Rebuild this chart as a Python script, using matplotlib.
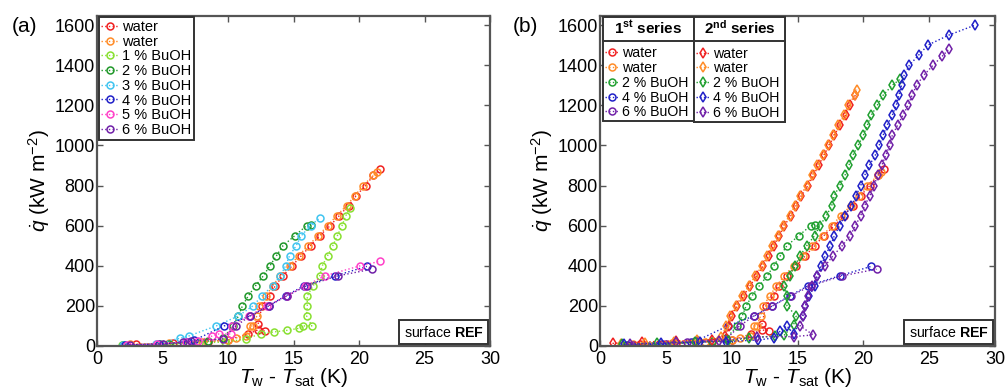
import matplotlib
matplotlib.use("Agg")
import matplotlib.pyplot as plt
from matplotlib.offsetbox import AnchoredText
from matplotlib.lines import Line2D

plt.rcParams['font.family'] = ['Liberation Sans', 'DejaVu Sans']
plt.rcParams['mathtext.fontset'] = 'custom'
plt.rcParams['mathtext.rm'] = 'Liberation Sans'
plt.rcParams['mathtext.it'] = 'Liberation Sans:italic'
plt.rcParams['mathtext.bf'] = 'Liberation Sans:bold'

# ---- panel (a) / 1st series data: (dT in K, q in kW m^-2) ----
water1_dt = [3.0, 5.8, 8.5, 10.0, 11.5, 12.3, 12.8, 12.3, 12.6, 13.2, 13.6, 14.2, 14.9, 15.6, 16.3, 17.0, 17.8, 18.5, 19.2, 19.8, 20.5, 21.1, 21.6]
water1_q = [8, 15, 22, 30, 60, 80, 75, 110, 200, 250, 300, 350, 400, 450, 500, 550, 600, 650, 700, 750, 800, 850, 880]
water2_dt = [2.5, 5.5, 8.0, 10.0, 10.6, 11.4, 11.7, 11.9, 12.2, 12.4, 12.9, 13.4, 14.0, 14.7, 15.4, 16.1, 16.9, 17.6, 18.3, 19.05, 19.7, 20.3, 21.1, 21.35]
water2_q = [8, 14, 20, 28, 40, 50, 100, 100, 150, 200, 250, 300, 350, 400, 450, 500, 550, 600, 650, 700, 750, 800, 850, 867]
buoh1_dt = [1.9, 4.8, 7.8, 9.8, 11.4, 12.5, 13.5, 14.5, 15.4, 15.75, 16.4, 16.0, 16.05, 16.05, 16.5, 17.0, 17.2, 17.6, 18.0, 18.35, 18.7, 19.0, 19.3]
buoh1_q = [5, 8, 15, 20, 35, 62, 70, 78, 88, 100, 100, 150, 200, 250, 300, 350, 400, 450, 500, 550, 600, 650, 690]
buoh2_dt = [2.0, 5.5, 8.5, 9.6, 10.4, 10.8, 11.1, 11.55, 12.1, 12.7, 13.2, 13.7, 14.2, 15.1, 16.0, 16.3]
buoh2_q = [5, 10, 25, 38, 100, 150, 200, 250, 300, 350, 400, 450, 500, 550, 600, 605]
buoh3_dt = [2.0, 4.5, 6.3, 7.0, 9.1, 10.8, 11.9, 12.6, 13.4, 14.0, 14.4, 14.7, 15.2, 15.6, 16.3, 17.0]
buoh3_q = [5, 10, 38, 50, 100, 150, 200, 250, 300, 350, 400, 450, 500, 550, 600, 638]
buoh4_dt = [2.1, 4.7, 6.9, 7.4, 9.7, 11.7, 13.1, 14.4, 15.8, 18.2, 20.6]
buoh4_q = [5, 10, 18, 28, 100, 150, 200, 250, 300, 350, 397]
buoh5_dt = [2.3, 4.6, 6.8, 7.7, 8.8, 9.3, 10.2, 10.3, 11.6, 13.0, 14.5, 15.9, 17.4, 20.1, 21.6]
buoh5_q = [5, 10, 20, 25, 50, 60, 60, 100, 150, 200, 250, 300, 350, 400, 422]
buoh6_dt = [2.5, 5.0, 6.6, 7.2, 9.6, 10.6, 11.7, 13.1, 14.5, 16.0, 18.4, 21.0]
buoh6_q = [5, 10, 20, 25, 35, 100, 150, 200, 250, 300, 350, 383]

# ---- panel (b) 2nd series data ----
water1b_dt = [0.95, 3.2, 5.8, 8.5, 9.5, 9.8, 10.0, 10.4, 10.9, 11.4, 11.9, 12.4, 12.8, 13.2, 13.6, 14.0, 14.5, 14.9, 15.3, 15.8, 16.2, 16.6, 17.0, 17.4, 17.8, 18.2, 18.65, 18.95, 19.4]
water1b_q = [13, 20, 25, 30, 50, 100, 150, 200, 250, 300, 350, 400, 450, 500, 550, 600, 650, 700, 750, 800, 850, 900, 950, 1000, 1050, 1100, 1150, 1200, 1250]
water2b_dt = [1.6, 3.4, 5.6, 7.4, 9.2, 9.6, 9.9, 10.3, 10.8, 11.3, 11.8, 12.3, 12.7, 13.1, 13.5, 13.9, 14.4, 14.8, 15.2, 15.7, 16.1, 16.5, 16.9, 17.3, 17.7, 18.1, 18.55, 18.85, 19.35, 19.5]
water2b_q = [10, 15, 22, 28, 45, 100, 150, 200, 250, 300, 350, 400, 450, 500, 550, 600, 650, 700, 750, 800, 850, 900, 950, 1000, 1050, 1100, 1150, 1200, 1250, 1278]
buoh2b_dt = [1.7, 4.3, 7.2, 9.7, 11.3, 13.3, 14.0, 14.7, 14.9, 14.2, 14.2, 14.0, 14.4, 14.8, 15.2, 15.7, 16.3, 16.7, 17.2, 17.6, 17.8, 18.2, 18.6, 18.9, 19.2, 19.6, 20.0, 20.3, 20.6, 21.06, 21.5, 22.2, 22.8]
buoh2b_q = [10, 15, 20, 25, 40, 50, 55, 105, 150, 200, 250, 300, 350, 400, 450, 500, 550, 600, 650, 700, 750, 800, 850, 900, 950, 1000, 1050, 1100, 1150, 1200, 1250, 1300, 1330]
buoh4b_dt = [1.8, 4.6, 7.6, 9.6, 12.0, 13.2, 13.7, 14.2, 14.7, 15.4, 15.6, 15.9, 16.3, 16.5, 16.8, 17.1, 17.5, 17.8, 18.2, 18.6, 19.1, 19.45, 19.8, 20.1, 20.45, 20.9, 21.2, 21.5, 21.8, 22.2, 22.5, 22.7, 22.9, 23.1, 23.5, 24.2, 24.9, 26.5, 28.5]
buoh4b_q = [8, 15, 20, 22, 30, 40, 75, 100, 60, 150, 200, 250, 300, 350, 400, 450, 500, 550, 600, 650, 700, 750, 800, 850, 900, 950, 1000, 1050, 1100, 1150, 1200, 1250, 1300, 1350, 1400, 1450, 1500, 1550, 1600]
buoh6b_dt = [2.3, 5.8, 9.0, 11.9, 14.7, 16.2, 15.2, 15.4, 15.6, 15.8, 16.1, 16.5, 17.1, 17.7, 18.4, 19.0, 19.4, 19.8, 20.1, 20.5, 20.8, 21.1, 21.4, 21.7, 22.0, 22.2, 22.6, 23.0, 23.4, 23.7, 24.05, 24.6, 25.3, 26.0, 26.5]
buoh6b_q = [10, 20, 27, 45, 47, 55, 100, 150, 200, 250, 300, 350, 400, 450, 500, 550, 600, 650, 700, 750, 800, 850, 900, 950, 1000, 1050, 1100, 1150, 1200, 1250, 1300, 1350, 1400, 1445, 1480]

labels_a = ['water', 'water', '1 % BuOH', '2 % BuOH', '3 % BuOH', '4 % BuOH', '5 % BuOH', '6 % BuOH']
colors_a = ['#f02020', '#ff8c28', '#88e030', '#20982a', '#40c4f0', '#2020c8', '#ff40c8', '#7020a8']
series_a = [(water1_dt, water1_q), (water2_dt, water2_q), (buoh1_dt, buoh1_q), (buoh2_dt, buoh2_q),
            (buoh3_dt, buoh3_q), (buoh4_dt, buoh4_q), (buoh5_dt, buoh5_q), (buoh6_dt, buoh6_q)]

labels_b = ['water', 'water', '2 % BuOH', '4 % BuOH', '6 % BuOH']
colors_b = ['#f02020', '#ff8c28', '#20a030', '#2020c8', '#7020a8']
series_b1 = [(water1_dt, water1_q), (water2_dt, water2_q), (buoh2_dt, buoh2_q), (buoh4_dt, buoh4_q), (buoh6_dt, buoh6_q)]
series_b2 = [(water1b_dt, water1b_q), (water2b_dt, water2b_q), (buoh2b_dt, buoh2b_q), (buoh4b_dt, buoh4b_q), (buoh6b_dt, buoh6b_q)]

fig = plt.figure(figsize=(10.05, 3.87), dpi=100)
ax_a = fig.add_axes([97 / 1005, 1 - 346 / 387, 393 / 1005, 330 / 387])
ax_b = fig.add_axes([600 / 1005, 1 - 346 / 387, 395 / 1005, 330 / 387])

line_kw = dict(ls=':', lw=1.0, mfc='none', mew=1.1)
leg_kw = dict(borderaxespad=0, fontsize=10.5, labelspacing=0.05, handlelength=1.15,
              handletextpad=0.25, borderpad=0.2, fancybox=False, framealpha=1)


def style_axes(ax):
    ax.set_xlim(0, 30)
    ax.set_ylim(0, 1645)
    ax.set_xticks(range(0, 31, 5))
    ax.set_yticks(range(0, 1601, 200))
    ax.tick_params(direction='in', top=True, right=True, length=4, width=1,
                   labelsize=13, color='#555555')
    ax.tick_params(axis='y', pad=1.5)
    for s in ax.spines.values():
        s.set_color('#555555')
        s.set_linewidth(1.6)
    ax.set_xlabel(r'$T_\mathrm{w}$ - $T_\mathrm{sat}$ (K)', fontsize=15, labelpad=-1)
    ax.set_ylabel(r'$\dot{q}$ (kW m$^{-2}$)', fontsize=15, labelpad=2)
    at = AnchoredText(r'surface $\mathbf{REF}$', loc='lower right', prop=dict(size=10.2),
                      frameon=True, pad=0.3, borderpad=0.15)
    at.patch.set_boxstyle('square', pad=0)
    at.patch.set_edgecolor('#333333')
    at.patch.set_linewidth(1.4)
    ax.add_artist(at)


# panel (a)
for (x, y), c, lab in zip(series_a, colors_a, labels_a):
    ax_a.plot(x, y, marker='o', ms=5, color=c, label=lab, **line_kw)
style_axes(ax_a)
leg = ax_a.legend(loc='upper left', bbox_to_anchor=(0.004, 0.997), **leg_kw)
leg.get_frame().set_edgecolor('#333333')
leg.get_frame().set_linewidth(1.4)

# panel (b)
h1, h2 = [], []
for (x, y), c, lab in zip(series_b1, colors_b, labels_b):
    h1 += ax_b.plot(x, y, marker='o', ms=5, color=c, label=lab, **line_kw)
for (x, y), c, lab in zip(series_b2, colors_b, labels_b):
    h2 += ax_b.plot(x, y, marker='d', ms=5.5, color=c, label=lab, **line_kw)
style_axes(ax_b)

legb_kw = dict(leg_kw, fontsize=10.2, handlelength=1.0, handletextpad=0.2, borderpad=0.15)
legs = []
for handles, x0, w, title in [(h1, 3 / 395, 91 / 395, r'1$^{\mathbf{st}}$ series'),
                              (h2, 94 / 395, 91 / 395, r'2$^{\mathbf{nd}}$ series')]:
    lg = ax_b.legend(handles=handles, loc='upper left', bbox_to_anchor=(x0, 0, w, 0.997),
                     mode='expand', title=title,
                     title_fontproperties={'weight': 'bold', 'size': 11}, **legb_kw)
    lg.get_frame().set_edgecolor('#333333')
    lg.get_frame().set_linewidth(1.4)
    lg._legend_box.sep = 7
    ax_b.add_artist(lg)
    legs.append(lg)

fig.canvas.draw()
for lg in legs:
    bb = lg.get_window_extent()
    tb = lg.get_title().get_window_extent()
    yline = tb.y0 - 4
    fig.add_artist(Line2D([bb.x0 / fig.bbox.width, bb.x1 / fig.bbox.width],
                          [yline / fig.bbox.height] * 2, transform=fig.transFigure,
                          color='#333333', lw=1.4))

fig.text(12 / 1005, 1 - 27 / 387, '(a)', fontsize=15, va='center')
fig.text(513 / 1005, 1 - 27 / 387, '(b)', fontsize=15, va='center')

fig.savefig('out.png', dpi=100)
